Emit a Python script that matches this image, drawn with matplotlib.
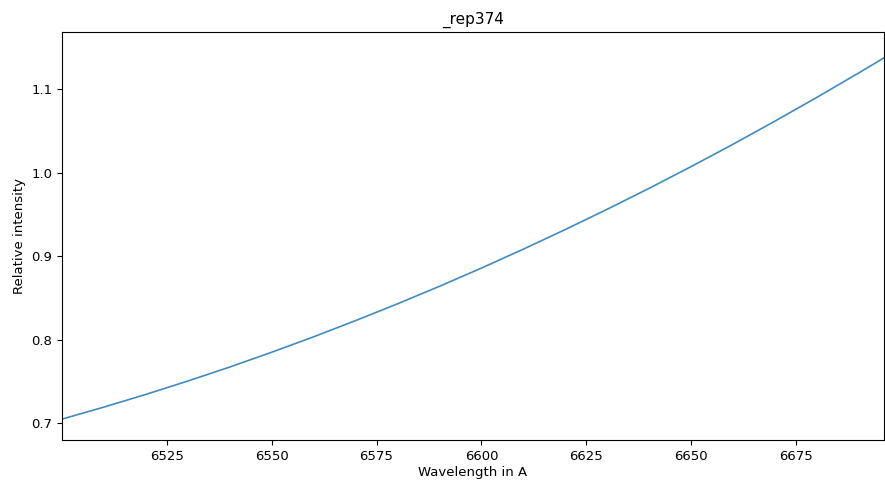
import matplotlib
matplotlib.use('Agg')
import matplotlib.pyplot as plt

# valores
wavelength = [6500, 6510, 6520, 6530, 6540, 6550, 6560, 6570, 6580, 6590,
              6600, 6610, 6620, 6630, 6640, 6650, 6660, 6670, 6680, 6690, 6696]
intensity = [0.7048, 0.7192, 0.7344, 0.7504, 0.7672, 0.7849, 0.8034, 0.8228,
             0.8429, 0.8639, 0.8857, 0.9084, 0.9319, 0.9562, 0.9813, 1.0073,
             1.0341, 1.0618, 1.0903, 1.1196, 1.1376]
xticks = [6525, 6550, 6575, 6600, 6625, 6650, 6675]
yticks = [0.7, 0.8, 0.9, 1.0, 1.1]

plt.rcParams['font.size'] = 9.5
fig = plt.figure(figsize=(8.85, 4.8), dpi=100)
ax = fig.add_axes([0.070, 0.083, 0.929, 0.850])
ax.plot(wavelength, intensity, color='#1f77b4', lw=1.2, alpha=0.85)
ax.set_xlim(wavelength[0], wavelength[-1])
ax.set_ylim(0.6796, 1.1683)
ax.set_xticks(xticks)
ax.set_yticks(yticks)
ax.set_title('_rep374', fontsize=11)
ax.set_xlabel('Wavelength in A', labelpad=2)
ax.set_ylabel('Relative intensity')
plt.savefig('out.png')
